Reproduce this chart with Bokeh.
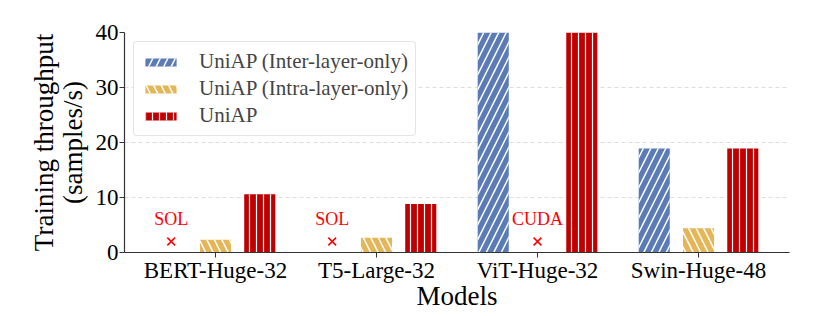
from bokeh.plotting import figure
from bokeh.models import ColumnDataSource, FixedTicker, Legend, LegendItem
from bokeh.transform import dodge
from bokeh.core.properties import value
from bokeh.embed import file_html
from bokeh.resources import INLINE

models = ["BERT-Huge-32", "T5-Large-32", "ViT-Huge-32", "Swin-Huge-48"]
inter_only = [None, None, 40.0, 18.9]
intra_only = [2.3, 2.7, None, 4.4]
uniap = [10.6, 8.8, 40.0, 18.9]
fail_labels = ["SOL", "SOL", "CUDA"]
fail_models = [0, 1, 2]
fail_series = ["inter", "inter", "intra"]
fail_marker_y = [2.0, 2.0, 2.0]
y_ticks = [0, 10, 20, 30, 40]

FONT = "Liberation Serif"
offsets = {"inter": -0.275, "intra": 0.0, "uniap": 0.275}
BW = 0.193

idx = list(range(len(models)))
src = ColumnDataSource(dict(
    idx=idx,
    inter=[v if v is not None else float("nan") for v in inter_only],
    intra=[v if v is not None else float("nan") for v in intra_only],
    uniap=uniap,
))
fsrc = ColumnDataSource(dict(
    x=[fm + offsets[s] for fm, s in zip(fail_models, fail_series)],
    lab=fail_labels,
    y=fail_marker_y,
    ty=[v + 2.3 for v in fail_marker_y],
))

p = figure(width=830, height=316, output_backend="svg", toolbar_location=None,
           x_range=(-0.565, 3.565), y_range=(0, 40),
           min_border_left=124, min_border_right=41, min_border_top=32, min_border_bottom=64)
p.outline_line_color = None
p.background_fill_color = "white"
p.border_fill_color = "white"

r1 = p.vbar(x=dodge("idx", offsets["inter"], range=p.x_range), top="inter", width=BW, source=src,
            fill_color="#5A7BB6", line_color=None,
            hatch_pattern="right_diagonal_line", hatch_color="white", hatch_scale=15, hatch_weight=1.5)
r2 = p.vbar(x=dodge("idx", offsets["intra"], range=p.x_range), top="intra", width=BW, source=src,
            fill_color="#E5B658", line_color=None,
            hatch_pattern="left_diagonal_line", hatch_color="white", hatch_scale=15, hatch_weight=1.5)
r3 = p.vbar(x=dodge("idx", offsets["uniap"], range=p.x_range), top="uniap", width=BW, source=src,
            fill_color="#C00000", line_color=None,
            hatch_pattern="vertical_line", hatch_color="white", hatch_scale=7, hatch_weight=1.2)

p.scatter(x="x", y="y", source=fsrc, marker="x", size=11, line_color="red", line_width=1.5)
p.text(x="x", y="ty", text="lab", source=fsrc, text_color="red", text_font=value(FONT),
       text_font_size="18px", text_align="center", text_baseline="bottom")

p.xaxis.ticker = FixedTicker(ticks=idx)
p.xaxis.major_label_overrides = {i: m for i, m in zip(idx, models)}
p.yaxis.ticker = FixedTicker(ticks=y_ticks)
p.xaxis.minor_tick_line_color = None
p.yaxis.minor_tick_line_color = None
for ax in (p.xaxis, p.yaxis):
    ax.major_label_text_font = FONT
    ax.major_label_text_font_size = "23px"
    ax.major_label_text_color = "black"
    ax.axis_label_text_font = FONT
    ax.axis_label_text_font_size = "27px"
    ax.axis_label_text_font_style = "normal"
    ax.axis_label_text_color = "black"
    ax.axis_label_text_line_height = 0.95
    ax.axis_line_color = "#333333"
    ax.axis_line_width = 1.2
    ax.major_tick_line_color = "#333333"
    ax.major_tick_out = 5
    ax.major_tick_in = 0
    ax.major_label_standoff = 1
p.xaxis.major_label_standoff = 0
p.xaxis.axis_label = "Models"
p.yaxis.axis_label = "Training throughput\n(samples/s)"
p.yaxis.axis_label_standoff = 5
p.xaxis.axis_label_standoff = -5

p.xgrid.grid_line_color = None
p.ygrid.grid_line_color = "#DDDDDD"
p.ygrid.grid_line_dash = "4 3"
p.ygrid.grid_line_width = 1

legend = Legend(items=[
    LegendItem(label="UniAP (Inter-layer-only)", renderers=[r1]),
    LegendItem(label="UniAP (Intra-layer-only)", renderers=[r2]),
    LegendItem(label="UniAP", renderers=[r3]),
], location="top_left")
legend.label_text_font = FONT
legend.label_text_font_size = "21px"
legend.glyph_width = 39
legend.glyph_height = 10
legend.label_standoff = 19
legend.spacing = 2
legend.padding = 7
legend.margin = 9
legend.border_line_color = "#CCCCCC"
legend.border_radius = 4
legend.background_fill_alpha = 1
p.add_layout(legend)

open("out.html", "w").write(file_html(p, INLINE))
